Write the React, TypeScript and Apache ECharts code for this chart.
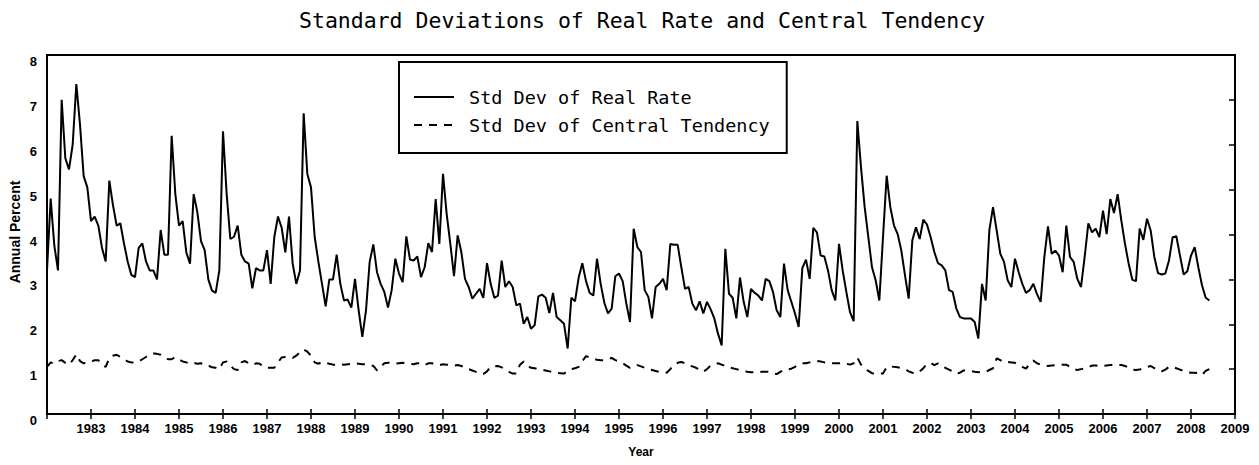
import React, { useEffect, useRef } from "react";
import * as echarts from "echarts";

const START_YEAR = 1982;
const END_YEAR = 2009;
const TITLE = "Standard Deviations of Real Rate and Central Tendency";
const SERIES_NAMES = ["Std Dev of Real Rate", "Std Dev of Central Tendency"];
const X_NAME = "Year";
const Y_NAME = "Annual Percent";

// Monthly values, Jan 1982 .. May 2008
const realRateStd = [
  3.2, 4.8, 3.75, 3.2, 7.0, 5.7, 5.45, 6.0, 7.35, 6.45,
  5.3, 5.05, 4.3, 4.4, 4.2, 3.7, 3.4, 5.2, 4.65, 4.2,
  4.25, 3.8, 3.4, 3.1, 3.05, 3.7, 3.8, 3.4, 3.2, 3.2,
  3.0, 4.1, 3.55, 3.55, 6.2, 4.9, 4.2, 4.3, 3.6, 3.35,
  4.9, 4.5, 3.85, 3.65, 3.0, 2.75, 2.7, 3.2, 6.3, 4.9,
  3.9, 3.95, 4.2, 3.55, 3.4, 3.35, 2.8, 3.25, 3.2, 3.2,
  3.65, 2.9, 3.95, 4.4, 4.15, 3.6, 4.4, 3.35, 2.9, 3.2,
  6.7, 5.35, 5.05, 3.95, 3.4, 2.9, 2.4, 3.0, 3.0, 3.55,
  2.9, 2.53,
  2.55, 2.37, 3.01, 2.31, 1.72, 2.31, 3.39, 3.78,
  3.16, 2.9, 2.72, 2.37, 2.76, 3.46, 3.13, 2.94, 3.96, 3.44,
  3.42, 3.51, 3.05, 3.27, 3.81, 3.61, 4.79, 3.79, 5.35, 4.46,
  3.79, 3.07, 3.98, 3.61, 3.01, 2.83, 2.57, 2.68, 2.79, 2.59,
  3.36, 2.9, 2.59, 2.64, 3.42, 2.83, 2.96, 2.83, 2.42, 2.46,
  2.01, 2.16, 1.9, 1.98, 2.62, 2.66, 2.59, 2.25, 2.7, 2.16,
  2.09, 2.01, 1.46, 2.59, 2.51, 3.04, 3.36, 2.96, 2.7, 2.64,
  3.46, 2.9, 2.48, 2.24, 2.35, 3.07, 3.13, 2.96, 2.46, 2.05,
  4.13, 3.72,
  3.61, 2.76, 2.61, 2.13, 2.83, 2.9, 3.01, 2.76,
  3.79, 3.77, 3.77, 3.27, 2.79, 2.83, 2.46, 2.31, 2.51, 2.24,
  2.5, 2.33, 2.13, 1.79, 1.53, 3.68, 2.68, 2.59, 2.13, 3.04,
  2.5, 2.16, 2.79, 2.7, 2.64, 2.53, 3.01, 2.96, 2.72, 2.31,
  2.16, 3.35, 2.76, 2.5, 2.24, 1.94, 3.25, 3.44, 3.01, 4.15,
  4.04, 3.53, 3.51, 3.2, 2.76, 2.53, 3.79, 3.2, 2.72, 2.27,
  2.07, 6.53, 5.5, 4.61, 3.94, 3.27, 2.98, 2.53, 3.94, 5.31,
  4.61, 4.2, 4.01, 3.64, 3.09, 2.57, 3.87, 4.16, 3.9, 4.33,
  4.22, 3.94, 3.61,
  3.36, 3.31, 3.2, 2.76, 2.72, 2.35, 2.16,
  2.13, 2.13, 2.13, 2.05, 1.68, 2.9, 2.53, 4.09, 4.61, 4.09,
  3.57, 3.39, 2.98, 2.83, 3.46, 3.16, 2.9, 2.7, 2.76, 2.9,
  2.67, 2.5, 3.5, 4.18, 3.57, 3.64, 3.53, 3.16, 4.2, 3.5,
  3.39, 3.01, 2.83, 3.5, 4.25, 4.05, 4.13, 3.94, 4.53, 4.01,
  4.79, 4.48, 4.9, 4.31, 3.79, 3.35, 2.99, 2.96, 4.13, 3.88,
  4.35, 4.09, 3.5, 3.14, 3.11, 3.13, 3.42, 3.94, 3.96, 3.53,
  3.11, 3.18, 3.53, 3.72, 3.27, 2.87, 2.59, 2.53,
];

const centralTendencyStd = [
  1.05, 1.15, 1.12, 1.18, 1.2, 1.14, 1.1, 1.2, 1.33, 1.18,
  1.13, 1.14, 1.16, 1.2, 1.2, 1.1, 1.05, 1.24, 1.3, 1.32,
  1.27, 1.22, 1.17, 1.15, 1.15, 1.17, 1.22, 1.27, 1.32, 1.35,
  1.34, 1.32, 1.27, 1.22, 1.22, 1.27, 1.22, 1.17, 1.15, 1.12,
  1.14, 1.12, 1.13, 1.12, 1.08, 1.04, 1.03, 1.0, 1.15, 1.17,
  1.08, 1.0, 0.98, 1.15, 1.18, 1.13, 1.09, 1.13, 1.12, 1.05,
  1.03, 1.03, 1.03, 1.15, 1.26, 1.27, 1.27, 1.25, 1.3, 1.38,
  1.44, 1.39, 1.3, 1.15, 1.12, 1.16, 1.14, 1.12, 1.1, 1.1,
  1.11, 1.1,
  1.11, 1.12, 1.13, 1.12, 1.11, 1.11, 1.1, 1.07,
  0.97, 1.05, 1.13, 1.14, 1.14, 1.12, 1.13, 1.14, 1.13, 1.12,
  1.11, 1.13, 1.13, 1.09, 1.13, 1.13, 1.1, 1.09, 1.11, 1.1,
  1.09, 1.08, 1.09, 1.07, 1.04, 1.0, 0.97, 0.94, 0.92, 0.89,
  0.95, 1.05, 1.06, 1.07, 1.04, 1.0, 0.94, 0.9, 0.9, 1.1,
  1.17, 1.08, 1.03, 1.02, 1.0, 0.99, 0.97, 0.95, 0.94, 0.92,
  0.91, 0.9, 0.96, 1.0, 1.02, 1.05, 1.18, 1.29, 1.26, 1.23,
  1.21, 1.2, 1.2, 1.23, 1.25, 1.2, 1.17, 1.13, 1.08, 1.03,
  1.06, 1.09,
  1.06, 1.03, 1.0, 0.98, 0.96, 0.94, 0.93, 0.92,
  1.0, 1.1, 1.14, 1.16, 1.13, 1.09, 1.06, 1.03, 0.99, 0.94,
  1.0, 1.08, 1.11, 1.13, 1.1, 1.07, 1.04, 1.02, 1.0, 0.98,
  0.96, 0.94, 0.93, 0.93, 0.93, 0.94, 0.94, 0.94, 0.91, 0.89,
  0.94, 0.98, 0.99, 1.01, 1.05, 1.1, 1.13, 1.13, 1.15, 1.17,
  1.18, 1.17, 1.15, 1.14, 1.13, 1.13, 1.13, 1.14, 1.12, 1.1,
  1.13, 1.26, 1.1, 1.01, 0.96, 0.91, 0.9, 0.9, 0.9, 1.05,
  1.06, 1.05, 1.04, 1.02, 1.0, 0.95, 0.92, 0.9, 0.95, 1.02,
  1.12, 1.14, 1.09,
  1.13, 1.08, 1.03, 0.99, 0.95, 0.9, 0.92,
  0.97, 0.97, 0.96, 0.94, 0.93, 0.94, 0.94, 0.98, 1.02, 1.24,
  1.2, 1.15, 1.16, 1.15, 1.14, 1.1, 1.05, 1.01, 1.12, 1.19,
  1.13, 1.1, 1.08, 1.07, 1.08, 1.09, 1.09, 1.1, 1.1, 1.05,
  1.0, 0.98, 1.0, 1.01, 1.04, 1.08, 1.08, 1.07, 1.07, 1.08,
  1.09, 1.09, 1.09, 1.09, 1.07, 1.03, 0.99, 0.98, 0.99, 1.02,
  1.05, 1.07, 1.02, 0.97, 0.95, 0.99, 1.05, 1.05, 1.02, 0.99,
  0.96, 0.93, 0.92, 0.92, 0.91, 0.87, 0.96, 1.0,
];

const Y_MIN = 0;
const Y_MAX = 8;

const toPairs = (vals: number[]) => vals.map((v, i) => [START_YEAR + i / 12, v]);

export default function App() {
  const ref = useRef<HTMLDivElement>(null);
  useEffect(() => {
    if (!ref.current) return;
    const chart = echarts.init(ref.current, undefined, { renderer: "svg" });
    const tickFont = { fontFamily: "Liberation Sans", fontWeight: "bold" as const, fontSize: 13, color: "#000" };
    const monoFont = "DejaVu Sans Mono";
    const grid = { left: 47, right: 24, top: 55, bottom: 51 };
    chart.setOption({
      animation: false,
      backgroundColor: "#fff",
      title: {
        text: TITLE,
        left: 294,
        top: 4,
        textStyle: { fontFamily: monoFont, fontSize: 21.5, fontWeight: "normal", color: "#000" },
      },
      grid: { ...grid, show: true, borderColor: "#000", borderWidth: 2, backgroundColor: "transparent" },
      legend: {
        orient: "vertical",
        left: 399,
        top: 62,
        padding: [24, 17, 17, 14],
        itemGap: 6,
        itemWidth: 40,
        itemHeight: 14,
        borderColor: "#000",
        borderWidth: 2,
        selectedMode: false,
        backgroundColor: "#fff",
        itemStyle: { opacity: 0, borderWidth: 0 },
        textStyle: { fontFamily: monoFont, fontSize: 18.5, color: "#000", lineHeight: 22, padding: [0, 0, 0, 10] },
        data: SERIES_NAMES,
      },
      xAxis: [
        {
          type: "value",
          min: START_YEAR,
          max: END_YEAR,
          interval: 1,
          position: "bottom",
          name: X_NAME,
          nameLocation: "middle",
          nameGap: 32,
          nameTextStyle: { ...tickFont, fontSize: 12 },
          axisLine: { show: false },
          axisTick: { show: true, inside: true, length: 5, lineStyle: { color: "#000", width: 1.5 } },
          axisLabel: {
            ...tickFont,
            margin: 8,
            showMinLabel: true,
            formatter: (v: number) => (v === START_YEAR ? "" : String(Math.round(v))),
          },
          splitLine: { show: false },
        },
        {
          type: "value",
          min: START_YEAR,
          max: END_YEAR,
          interval: 1,
          position: "top",
          axisLine: { show: false },
          axisTick: { show: true, inside: true, length: 5, lineStyle: { color: "#000", width: 1.5 } },
          axisLabel: { show: false },
          splitLine: { show: false },
        },
      ],
      yAxis: [
        {
          type: "value",
          min: Y_MIN,
          max: Y_MAX,
          interval: 1,
          position: "left",
          axisLine: { show: false },
          axisTick: { show: false },
          axisLabel: { ...tickFont, margin: 10, verticalAlign: "top" },
          splitLine: { show: false },
        },
        {
          type: "value",
          min: Y_MIN,
          max: Y_MAX,
          interval: 1,
          position: "right",
          axisLine: { show: false },
          axisTick: { show: true, inside: true, length: 6, lineStyle: { color: "#000", width: 1.5 } },
          axisLabel: { show: false },
          splitLine: { show: false },
        },
      ],
      graphic: [
        {
          type: "text",
          x: 15,
          y: 232,
          rotation: Math.PI / 2,
          style: {
            text: Y_NAME,
            fontFamily: "Liberation Sans",
            fontWeight: "bold",
            fontSize: 14,
            fill: "#000",
            textAlign: "center",
            textVerticalAlign: "middle",
          },
        },
      ],
      series: [
        {
          name: SERIES_NAMES[0],
          type: "line",
          xAxisIndex: 0,
          yAxisIndex: 0,
          data: toPairs(realRateStd),
          symbol: "none",
          lineStyle: { color: "#000", width: 2 },
          itemStyle: { color: "#000" },
        },
        {
          name: SERIES_NAMES[1],
          type: "line",
          xAxisIndex: 0,
          yAxisIndex: 0,
          data: toPairs(centralTendencyStd),
          symbol: "none",
          lineStyle: { color: "#000", width: 2, type: [8, 7] },
          itemStyle: { color: "#000" },
        },
      ],
    });
    return () => chart.dispose();
  }, []);
  return (
    <div
      ref={ref}
      style={{ position: "fixed", left: 0, top: 0, width: 1259, height: 465, background: "#fff" }}
    />
  );
}
